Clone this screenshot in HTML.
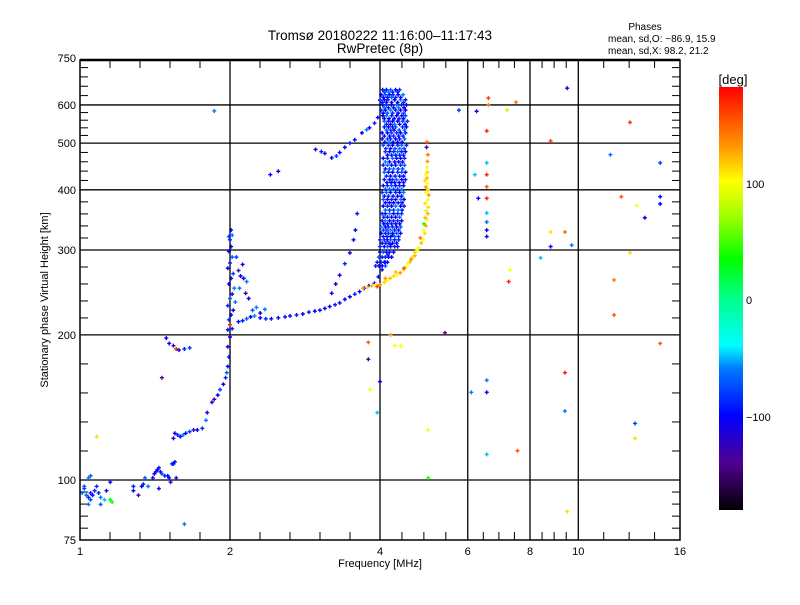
<!DOCTYPE html>
<html><head><meta charset="utf-8"><style>
body{margin:0;background:#fff;}
svg text{font-family:"Liberation Sans",sans-serif;fill:#000;}
</style></head><body>
<svg id="chart" width="800" height="600" viewBox="0 0 800 600" xmlns="http://www.w3.org/2000/svg">
<rect width="800" height="600" fill="#fff"/>
<text x="380" y="40" font-size="13.5" text-anchor="middle">Tromsø 20180222 11:16:00–11:17:43</text>
<text x="380" y="53" font-size="13.5" text-anchor="middle">RwPretec (8p)</text>
<text x="645" y="30" font-size="10" text-anchor="middle">Phases</text>
<text x="608" y="42" font-size="10">mean, sd,O: −86.9, 15.9</text>
<text x="608" y="54" font-size="10">mean, sd,X:  98.2, 21.2</text>
<text transform="translate(48,300) rotate(-90)" font-size="11" text-anchor="middle">Stationary phase Virtual Height [km]</text>
<text x="380" y="567" font-size="11" text-anchor="middle">Frequency [MHz]</text>
<g id="grid"></g>
<g id="ticks"></g>
<g id="marks"></g>
<rect x="80" y="60" width="600" height="480" fill="none" stroke="#000" stroke-width="1.5"/>
<line x1="80" y1="60" x2="680" y2="60" stroke="#000" stroke-width="2.5"/>
<defs><linearGradient id="cbar" x1="0" y1="1" x2="0" y2="0">
<stop offset="0" stop-color="#000"/><stop offset="0.111" stop-color="#500090"/><stop offset="0.222" stop-color="#0000ff"/>
<stop offset="0.333" stop-color="#0078ff"/><stop offset="0.389" stop-color="#00ffff"/><stop offset="0.5" stop-color="#00ff8c"/>
<stop offset="0.592" stop-color="#00ff00"/><stop offset="0.694" stop-color="#a0ff00"/><stop offset="0.778" stop-color="#ffff00"/>
<stop offset="0.861" stop-color="#ff9600"/><stop offset="1" stop-color="#ff0000"/></linearGradient></defs>
<rect x="719" y="87" width="24" height="423" fill="url(#cbar)"/>
<text x="733" y="84" font-size="13" text-anchor="middle">[deg]</text>
<text x="746" y="188" font-size="11">100</text>
<text x="746" y="304" font-size="11">0</text>
<text x="746" y="421" font-size="11">−100</text>
</svg>
<script>
const xTicks=[1,2,4,6,8,10,16];
const yTicks=[75,100,200,300,400,500,600,750];
const xGrid=[2,4,6,8,10];
const yGrid=[100,200,300,400,500,600];
const lowCluster=[[1.01,94,-60],[1.02,96,-80],[1.03,93,-70],[1.04,92,-90],[1.05,94,-95],[1.05,91,-75],[1.06,93,-100],[1.07,95,-90],[1.04,101,-60],[1.05,102,-70],[1.08,97,-85],[1.09,94,-90],[1.1,92,-60],[1.12,91,-50],[1.13,95,-110],[1.1,89,-70],[1.15,91,30],[1.16,90,40],[1.04,89,-60],[1.02,97,-70],[1.08,123,110]];
const lowerTrace=[[1.15,99,-110],[1.28,97,-90],[1.28,95,-100],[1.31,93,-130],[1.33,97,-100],[1.34,98,-90],[1.35,101,-70],[1.37,97,-60],[1.40,101,-110],[1.41,103,-100],[1.42,104,-105],[1.43,105,-100],[1.44,106,-95],[1.45,104,-110],[1.44,96,-110],[1.46,103,-80],[1.48,102,-90],[1.50,102,-100],[1.51,101,-95],[1.52,99,-115],[1.53,108,-90],[1.54,108,-95],[1.55,109,-100],[1.56,101,-130],[1.62,81,-60],
[1.54,122,-120],[1.55,125,-100],[1.57,124,-90],[1.59,123,-95],[1.61,124,-60],[1.63,125,-100],[1.66,126,-80],[1.69,127,-130],[1.72,127,-100],[1.76,128,-90],
[1.79,133,-60],[1.80,138,-100],[1.84,145,-110],[1.86,147,-130],[1.89,150,-100],[1.91,154,-80],[1.94,158,-100],[1.96,163,-90],[1.97,167,-70],[1.98,172,-100],[1.99,180,-90],[1.98,189,-110],[2.0,198,-100],
[1.49,197,-100],[1.51,192,-110],[1.54,190,-120],[1.56,187,170],[1.58,186,-100],[1.62,187,-90],[1.66,188,-80],[1.46,163,-140]];
const verticalTrace=[[1.98,205,-100],[2.0,210,170],[2.02,206,-90],[1.99,215,-80],[2.01,220,-100],[2.03,225,-110],[1.98,230,-90],[2.0,238,-70],[2.02,243,-100],[2.04,250,-60],[1.99,255,-100],[2.01,262,-110],[2.03,268,-80],[1.98,275,-100],[2.0,282,-90],[2.02,290,-70],[1.99,298,-100],[2.01,305,-110],[2.0,315,-90],[2.02,322,-60],[2.01,330,-100],[1.99,320,-80],
[2.08,272,-130],[2.1,265,-100],[2.13,262,-110],[2.16,258,-60],[2.06,290,-80],[2.12,280,-100],[2.15,244,-130],[2.18,238,-100],[2.09,250,-60],[2.22,225,-70],[2.26,228,-60],[2.3,222,-100],[2.35,226,-60],[2.05,234,-60]];
const horizontalTrace=[[2.08,213,-100],[2.12,214,-90],[2.16,216,-70],[2.2,218,-100],[2.24,219,-60],[2.3,217,-100],[2.36,216,-90],[2.42,216,-110],[2.5,217,-100],[2.58,218,-90],[2.64,219,-100],[2.72,220,-95],[2.8,221,-100],[2.88,223,-90],[2.96,224,-100],[3.03,225,-95],[3.1,227,-100],[3.17,229,-110],[3.25,231,-90],[3.32,233,-100],[3.4,237,-95],[3.48,240,-100],[3.56,243,-90],[3.64,246,-100],[3.72,250,-95],[3.8,253,-100],[3.9,256,-90],[3.97,264,-100],[4.04,273,-95],[4.1,283,-100],[4.15,293,-90],[4.2,308,-100],[4.24,322,-95],
[3.2,244,-100],[3.26,255,-110],[3.32,266,-100],[3.4,281,-90],[3.48,296,-100],[3.54,315,-100],[3.57,330,-100],[3.6,357,-90],
[2.41,430,-100],[2.5,437,-110],[2.97,485,-100],[3.05,480,-90],[3.1,476,-110],[3.2,466,-100],[3.27,470,-80],[3.32,478,-100],[3.4,490,-100],[3.48,500,-90],[3.56,508,-100],[3.68,525,-110],[3.76,533,-60],[3.81,538,-100],[3.9,550,-90],[3.96,565,-100],[4.0,613,-110],[1.86,583,-60]];
const blobHeights=[645,630,615,600,585,570,555,540,525,510,495,480,465,450,435,420,408,395,382,370,357,345,335,325,315,305,297,290,283,278];
const blobRowFreqs=[[4.05,4.12,4.2,4.3,4.38],[4.02,4.1,4.18,4.25,4.35,4.45],[4.0,4.08,4.15,4.28,4.4,4.5],[4.05,4.12,4.22,4.32,4.42,4.52],[4.02,4.1,4.2,4.3,4.4,4.5],[4.05,4.12,4.22,4.32,4.42,4.5],[4.08,4.16,4.24,4.34,4.44,4.54],[4.08,4.16,4.24,4.3,4.44,4.52],[4.04,4.14,4.22,4.32,4.4,4.5],[4.04,4.14,4.2,4.3,4.38,4.48],[4.06,4.16,4.24,4.34,4.42,4.52],[4.1,4.18,4.26,4.34,4.42,4.5],[4.06,4.14,4.24,4.32,4.4,4.48],[4.06,4.14,4.22,4.3,4.4,4.48],[4.08,4.16,4.24,4.34,4.42,4.5],[4.08,4.18,4.24,4.32,4.42,4.5],[4.06,4.14,4.22,4.3,4.38,4.46],[4.04,4.12,4.2,4.3,4.38,4.46],[4.06,4.14,4.22,4.3,4.4,4.47],[4.06,4.14,4.22,4.3,4.4,4.47],[4.04,4.1,4.18,4.26,4.34,4.42],[4.04,4.1,4.18,4.26,4.34,4.42],[4.02,4.1,4.16,4.24,4.32,4.4],[4.02,4.1,4.16,4.24,4.32,4.4],[4.0,4.08,4.14,4.2,4.28,4.36],[4.0,4.08,4.14,4.2,4.28,4.34],[4.0,4.06,4.12,4.18,4.26],[3.98,4.04,4.1,4.16,4.22],[3.95,4.02,4.08,4.14],[3.92,3.98,4.04,4.1]];
const blobRowPhases=[-95,-100,-70,-105,-85,-100,-60,-90,-100,-110,-75,-85,-100,-90,-65,-95,-100,-85,-70,-100,-90,-105,-60,-100,-90,-85,-100,-70,-95,-90];
const blobFillHeights=[638,622,607,592,577,562,547,532,517,502,487,472,457,442,427,414,401,388,376,363,351,340,330,320,310];
const blobFillFreqs=[[4.08,4.16,4.24,4.34],[4.06,4.14,4.22,4.3,4.4],[4.04,4.12,4.22,4.34,4.46],[4.08,4.16,4.26,4.36,4.47],[4.06,4.14,4.24,4.35,4.46],[4.08,4.17,4.27,4.37,4.46],[4.12,4.2,4.28,4.38,4.49],[4.12,4.2,4.27,4.37,4.48],[4.08,4.18,4.26,4.36,4.45],[4.09,4.17,4.25,4.34,4.43],[4.11,4.2,4.29,4.38,4.47],[4.14,4.22,4.3,4.38,4.46],[4.1,4.18,4.28,4.36,4.44],[4.1,4.18,4.26,4.35,4.44],[4.12,4.2,4.29,4.38,4.46],[4.13,4.21,4.28,4.37,4.46],[4.1,4.18,4.26,4.34,4.42],[4.08,4.16,4.25,4.34,4.42],[4.1,4.18,4.26,4.35,4.43],[4.1,4.18,4.26,4.35,4.43],[4.07,4.14,4.22,4.3,4.38],[4.07,4.14,4.22,4.3,4.38],[4.06,4.13,4.2,4.28,4.36],[4.06,4.13,4.2,4.28,4.36],[4.04,4.11,4.17,4.24,4.32]];
const blobFillPhases=[-80,-100,-95,-60,-100,-110,-90,-70,-100,-95,-85,-100,-60,-105,-90,-100,-75,-95,-100,-65,-90,-100,-80,-95,-100];
const xTrace=[[3.7,250,130],[3.78,251,110],[3.85,253,120],[3.92,254,100],[4.0,254,130],[4.08,257,110],[4.12,259,100],[4.19,262,120],[4.26,265,110],[4.32,266,100],[4.39,269,130],[4.46,273,110],[4.52,277,100],[4.59,283,120],[4.65,290,105],[4.7,297,110],[4.78,303,95],[4.84,310,120],[4.88,315,100],[4.92,325,110],[4.94,337,130],[4.97,347,100],[4.99,357,120],[5.0,368,110],[4.99,381,100],[5.01,390,130],[4.99,400,110],[4.98,412,100],[4.97,423,120],[4.98,435,110],[4.97,445,100],[4.98,458,130],[4.99,473,140],[4.97,502,150],[4.96,490,-130],[4.9,340,40],[4.82,318,140],[4.75,300,100],[4.62,287,130],[4.47,275,150],[3.95,252,160],
[4.9,330,100],[4.93,350,120],[4.95,362,90],[4.93,375,110],[4.95,395,100],[4.94,405,130],[4.92,418,110],[4.94,430,100],[4.7,292,120],[4.55,282,100],[4.3,270,120],[4.1,262,130]];
const scatterPts=[[5.76,585,-80],[6.25,582,-100],[6.6,620,160],[6.6,600,140],[7.5,608,140],[7.2,585,80],[9.5,650,-110],[6.55,530,170],[6.55,455,-50],[6.55,430,170],[6.55,406,150],[6.55,384,170],[6.55,358,-50],[6.55,343,-60],[6.55,330,-100],[6.55,320,-110],[6.3,384,-100],[6.2,430,-50],[8.8,505,160],[8.8,327,110],[9.4,327,140],[8.8,305,-100],[8.4,289,-50],[9.7,307,-60],[7.3,273,100],[7.25,258,170],[11.6,473,-60],[12.2,387,150],[13.1,371,100],[13.6,350,-100],[12.7,552,160],[14.6,387,-100],[14.6,374,-100],[14.6,455,-80],[11.8,260,140],[12.7,296,110],[11.8,220,150],[14.6,192,150],[13,131,-80],[13,122,110],[9.4,167,170],[9.4,139,-60],[9.5,86,110],[7.55,115,150],[6.55,161,-60],[6.55,152,-100],[6.55,113,-50],[6.1,152,-60],[5.0,101,40],[5.0,127,100],[3.79,193,150],[3.79,178,-140],[3.82,154,100],[3.95,138,-50],[4.0,160,-100],[4.28,190,100],[4.4,190,100],[5.4,202,-140],[4.2,200,130]];

const X0=80,PX_OCT=150,Y100=480,PX_DEC=482;
function xs(f){return X0+PX_OCT*Math.log2(f);}
function ys(h){return Y100-PX_DEC*Math.log10(h/100);}
const stops=[[-180,[0,0,0]],[-140,[80,0,144]],[-100,[0,0,255]],[-60,[0,120,255]],[-40,[0,255,255]],[0,[0,255,140]],[33,[0,255,0]],[70,[160,255,0]],[100,[255,255,0]],[130,[255,150,0]],[180,[255,0,0]]];
function cmap(p){p=Math.max(-180,Math.min(180,p));for(let i=1;i<stops.length;i++){if(p<=stops[i][0]){const a=stops[i-1],b=stops[i],t=(p-a[0])/(b[0]-a[0]);return 'rgb('+a[1].map((v,k)=>Math.round(v+(b[1][k]-v)*t)).join(',')+')';}}return 'rgb(255,0,0)';}
const NS='http://www.w3.org/2000/svg';
function mk(tag,attrs,parent){const e=document.createElementNS(NS,tag);for(const k in attrs)e.setAttribute(k,attrs[k]);parent.appendChild(e);return e;}
const grid=document.getElementById('grid'),ticks=document.getElementById('ticks'),marks=document.getElementById('marks'),svg=document.getElementById('chart');
xGrid.forEach(f=>{const l=mk('line',{x1:xs(f),x2:xs(f),y1:60,y2:540,stroke:'#000','stroke-width':1.3},grid);

});
yGrid.forEach(h=>{const l=mk('line',{x1:80,x2:680,y1:ys(h),y2:ys(h),stroke:'#000','stroke-width':1.3},grid);

});
const xMaj=xTicks.map(xs);
for(let i=0;i<xMaj.length-1;i++){const n=i<2?5:4;for(let j=1;j<n;j++){const x=xMaj[i]+(xMaj[i+1]-xMaj[i])*j/n;
mk('line',{x1:x,x2:x,y1:540,y2:532,stroke:'#000'},ticks);mk('line',{x1:x,x2:x,y1:60,y2:68,stroke:'#000'},ticks);}}
const yMaj=yTicks.map(ys);
for(let i=0;i<yMaj.length-1;i++){const n=5;for(let j=1;j<n;j++){const y=yMaj[i]+(yMaj[i+1]-yMaj[i])*j/n;
mk('line',{x1:80,x2:88,y1:y,y2:y,stroke:'#000'},ticks);mk('line',{x1:680,x2:672,y1:y,y2:y,stroke:'#000'},ticks);}}
xTicks.forEach(f=>{const t=mk('text',{x:xs(f),y:555,'font-size':11,'text-anchor':'middle'},svg);t.textContent=f;

});
yTicks.forEach(h=>{const t=mk('text',{x:76,y:ys(h)+4,'font-size':11,'text-anchor':'end'},svg);t.textContent=h;

});
function plus(f,h,p){const x=xs(f),y=ys(h),c=cmap(p);
const g=mk('path',{d:'M'+(x-2)+' '+y+'h4M'+x+' '+(y-2)+'v4',stroke:c,'stroke-width':1.4,fill:'none'},marks);

}
[lowCluster,lowerTrace,verticalTrace,horizontalTrace,scatterPts].forEach(arr=>arr.forEach(d=>plus(d[0],d[1],d[2])));
blobHeights.forEach((h,i)=>blobRowFreqs[i].forEach((f,k)=>plus(f,h,blobRowPhases[(i+k)%blobRowPhases.length])));
blobFillHeights.forEach((h,i)=>blobFillFreqs[i].forEach((f,k)=>plus(f,h,blobFillPhases[(i+k*3)%blobFillPhases.length])));
xTrace.forEach(d=>plus(d[0],d[1],d[2]));
</script>
</body></html>
